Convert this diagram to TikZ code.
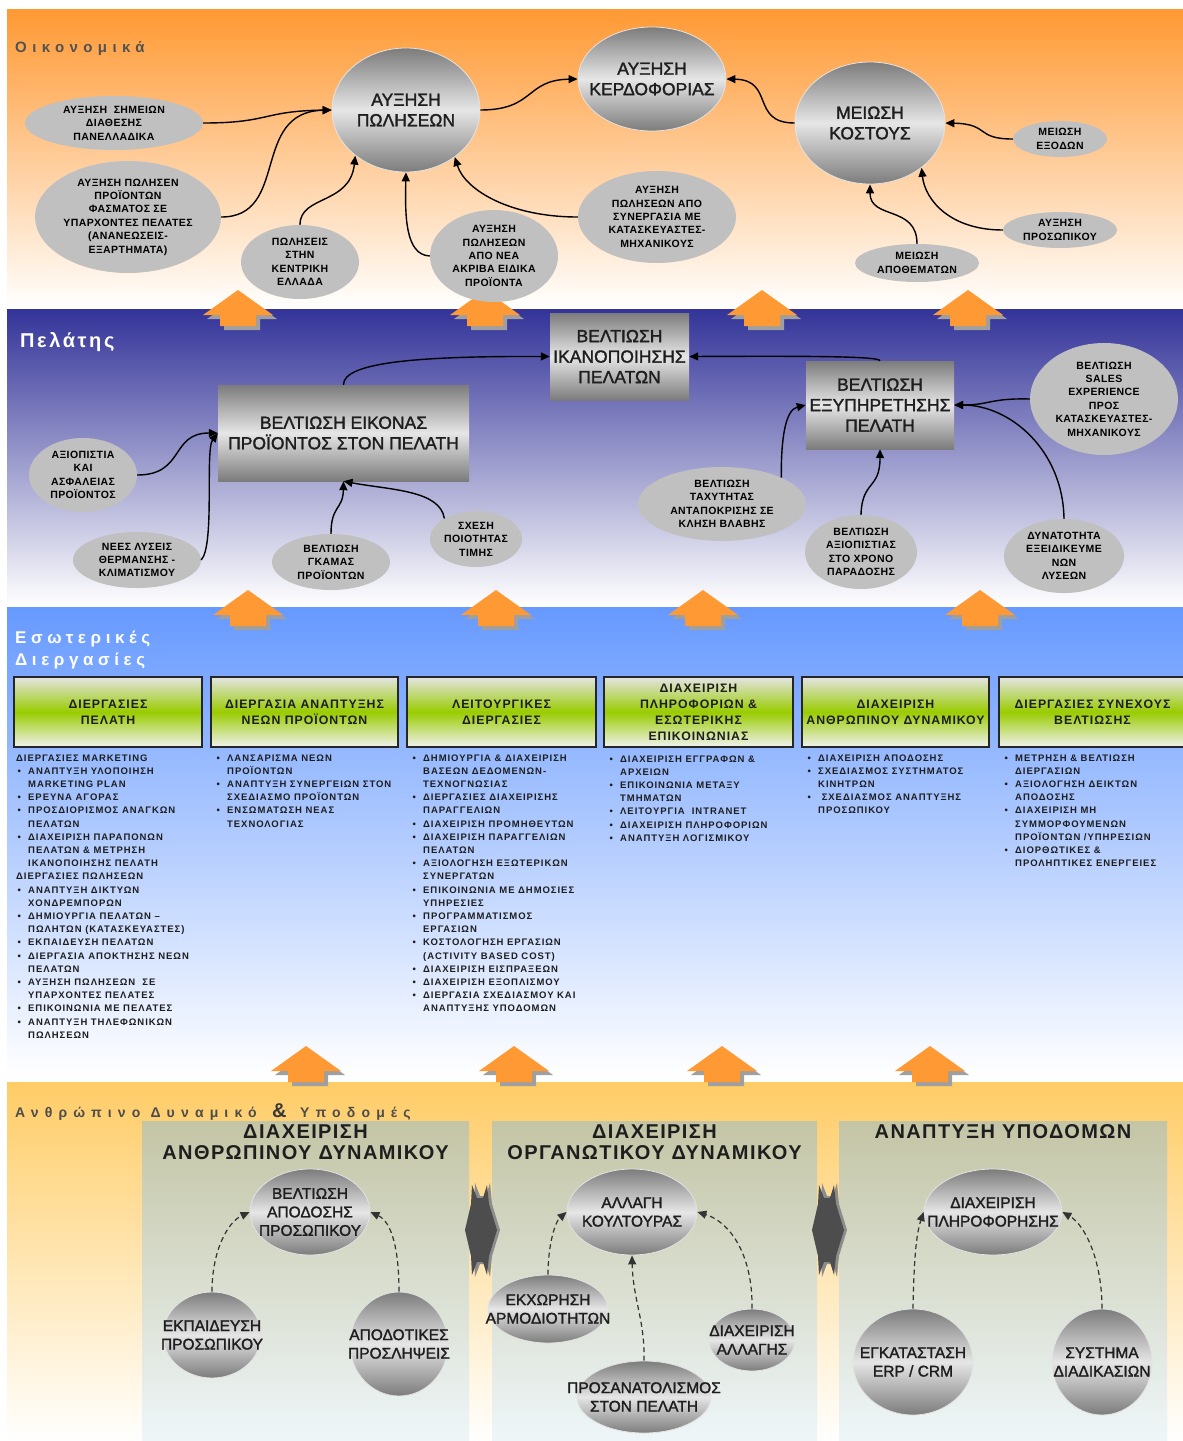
\documentclass[tikz,border=0pt]{standalone}
\usepackage{fontspec}
\setmainfont{Liberation Sans}
\newfontfamily\fMd{Liberation Sans}[FakeBold=1.6]
\newfontfamily\fSm{Liberation Sans}[LetterSpace=4]
\newfontfamily\fLs{Liberation Sans}[LetterSpace=10]
\newfontfamily\fHd{Liberation Sans}[LetterSpace=8]
\newfontfamily\fPn{Liberation Sans}[LetterSpace=7]
\newfontfamily\fTt{Liberation Sans}[LetterSpace=36]
\newfontfamily\fPl{Liberation Sans}[LetterSpace=13]
\newfontfamily\fEs{Liberation Sans}[LetterSpace=27]
\newfontfamily\fSp{Liberation Sans}[LetterSpace=44]
\usetikzlibrary{shapes.geometric,arrows.meta,calc}
\definecolor{orA}{HTML}{FF9933}
\definecolor{blA}{HTML}{333399}
\definecolor{lbA}{HTML}{6699FF}
\definecolor{yeA}{HTML}{FFCC66}
\definecolor{ellG}{HTML}{C0C0C0}
\definecolor{gD}{HTML}{7C7C7C}
\definecolor{gL}{HTML}{E6E6E6}
\definecolor{grn}{HTML}{99CC00}
\definecolor{gbT}{HTML}{E4E4E4}
\definecolor{gbB}{HTML}{F2F2F2}
\definecolor{pnT}{HTML}{C4C5A5}
\definecolor{pnB}{HTML}{EEF6F9}
\definecolor{txD}{HTML}{1E1E1E}
\definecolor{dk}{HTML}{333333}
\definecolor{hxD}{HTML}{4D4D4D}
\definecolor{hxL}{HTML}{8C8C8C}
\tikzset{
  bigell/.style={ellipse, inner sep=0, draw=gray!22, line width=0.8pt, top color=gD, bottom color=gD, middle color=gL},
  smell/.style={ellipse, inner sep=0, fill=ellG},
  grect/.style={rectangle, inner sep=0, top color=gD, bottom color=gD, middle color=gL},
  bigtxt/.style={align=center, inner sep=0, text=txD, font=\fMd\fontsize{17.5}{20.5}\selectfont},
  bottxt/.style={align=center, inner sep=0, text=txD, font=\fMd\fontsize{15.5}{18.5}\selectfont},
  smtxt/.style={align=center, inner sep=0, text=black, font=\fSm\bfseries\fontsize{10.5}{13.4}\selectfont},
  gbox/.style={rectangle, draw=black!85, line width=1.5pt, top color=gbT, bottom color=gbB, middle color=grn, inner sep=0, align=center, text=txD, font=\fHd\bfseries\fontsize{12.3}{16}\selectfont},
  lst/.style={anchor=north west, align=left, inner sep=0, text=txD, font=\fLs\bfseries\fontsize{9.5}{13.2}\selectfont},
  ptitle/.style={align=center, inner sep=0, anchor=north, text=txD, font=\fPn\bfseries\fontsize{20}{21}\selectfont},
  conn/.style={line width=1.4pt, draw=black, -{Triangle[length=9pt,width=8pt]}},
  dconn/.style={line width=1.2pt, draw=dk, dash pattern=on 5pt off 3.5pt, -{Triangle[length=9pt,width=8pt]}},
  arS/.style={fill=gray!75},
  arF/.style={fill=orA}
}
\newcommand\EN[8]{\node[#1, minimum width=#5, minimum height=#6] (#2) at (#3,#4) {}; \node[#7] (#2-t) at (#3,#4) {#8};}
\newcommand\blockup[2]{%
\begin{scope}[shift={(#1,#2)}]
\fill[arS] (4,4) -- (39,29) -- (22,29) -- (22,40) -- (-14,40) -- (-14,29) -- (-31,29) -- cycle;
\fill[arF] (0,0) -- (35,25) -- (18,25) -- (18,36) -- (-18,36) -- (-18,25) -- (-35,25) -- cycle;
\end{scope}}
\newcommand\dblhex[1]{%
\begin{scope}[shift={(#1,1230)}]
\fill[hxL] (-14,0) -- (-8,-26) -- (-7,-47) -- (-2,-34) -- (4,-34) -- (8,-47) -- (10,-26) -- (18,0) -- (10,26) -- (8,47) -- (4,34) -- (-2,34) -- (-7,47) -- (-8,26) -- cycle;
\fill[hxD] (-17,0) -- (-11,-26) -- (-10,-45) -- (-5,-32) -- (1,-32) -- (5,-45) -- (7,-26) -- (15,0) -- (7,26) -- (5,45) -- (1,32) -- (-5,32) -- (-10,45) -- (-11,26) -- cycle;
\end{scope}}
\newcommand\bu{\hspace*{1.5pt}\makebox[10.5pt][l]{•}}
\newcommand\co{\hspace*{12pt}}
\begin{document}
\begin{tikzpicture}[x=1pt,y=-1pt]
\useasboundingbox (0,0) rectangle (1183,1441);
% ---------- bands
\fill[top color=orA, bottom color=white] (7,9) rectangle (1183,308);
\fill[top color=blA, bottom color=white] (7,309) rectangle (1183,606);
\fill[top color=lbA, bottom color=white] (7,607) rectangle (1183,1076);
\fill[top color=yeA, bottom color=white] (7,1082) rectangle (1183,1441);
% ---------- section titles
\node[anchor=base west, inner sep=0, text=black!68, font=\fTt\bfseries\fontsize{15}{15}\selectfont] (t1) at (15,52) {Οικονομικά};
\node[anchor=base west, inner sep=0, text=white, font=\fPl\bfseries\fontsize{20}{20}\selectfont] (t2) at (20,347) {Πελάτης};
\node[anchor=base west, inner sep=0, text=white, font=\fEs\bfseries\fontsize{17}{17}\selectfont] (t3) at (15,643) {Εσωτερικές};
\node[anchor=base west, inner sep=0, text=white, font=\fEs\bfseries\fontsize{17}{17}\selectfont] (t4) at (15,665) {Διεργασίες};
\node[anchor=base west, inner sep=0, text=black!70, font=\fSp\bfseries\fontsize{14}{14}\selectfont] (t5) at (15,1117) {Ανθρώπινο Δυναμικό};
\node[anchor=base west, inner sep=0, text=black!78, font=\bfseries\fontsize{20}{20}\selectfont] (t6) at (272,1117) {\&};
\node[anchor=base west, inner sep=0, text=black!70, font=\fSp\bfseries\fontsize{14}{14}\selectfont] (t7) at (300,1117) {Υποδομές};
% ---------- block arrows
\blockup{238}{290}\blockup{485}{290}\blockup{762}{290}\blockup{968}{290}
\blockup{248}{590}\blockup{496}{590}\blockup{703}{590}\blockup{980}{590}
\blockup{306}{1046}\blockup{514}{1046}\blockup{722}{1046}\blockup{930}{1046}
% ---------- panels
\fill[top color=pnT, bottom color=pnB] (142,1121) rectangle (469,1441);
\fill[top color=pnT, bottom color=pnB] (492,1121) rectangle (817,1441);
\fill[top color=pnT, bottom color=pnB] (839,1121) rectangle (1167,1441);
\dblhex{482}\dblhex{829}
\node[ptitle] (p1) at (305.5,1124.5) {ΔΙΑΧΕΙΡΙΣΗ\\ΑΝΘΡΩΠΙΝΟΥ ΔΥΝΑΜΙΚΟΥ};
\node[ptitle] (p2) at (654.5,1124.5) {ΔΙΑΧΕΙΡΙΣΗ\\ΟΡΓΑΝΩΤΙΚΟΥ ΔΥΝΑΜΙΚΟΥ};
\node[ptitle] (p3) at (1003,1124.5) {ΑΝΑΠΤΥΞΗ ΥΠΟΔΟΜΩΝ};
% ---------- top: financial
\EN{bigell}{pol}{406}{110}{148}{124}{bigtxt}{ΑΥΞΗΣΗ\\ΠΩΛΗΣΕΩΝ}
\EN{bigell}{kerd}{652}{79}{148}{104}{bigtxt}{ΑΥΞΗΣΗ\\ΚΕΡΔΟΦΟΡΙΑΣ}
\EN{bigell}{kost}{870}{123}{150}{122}{bigtxt}{ΜΕΙΩΣΗ\\ΚΟΣΤΟΥΣ}
\EN{smell}{sim}{114}{123}{178}{54}{smtxt}{ΑΥΞΗΣΗ \ ΣΗΜΕΙΩΝ\\ΔΙΑΘΕΣΗΣ\\ΠΑΝΕΛΛΑΔΙΚΑ}
\EN{smell}{fasm}{128}{217}{186}{112}{smtxt}{ΑΥΞΗΣΗ ΠΩΛΗΣΕΝ\\ΠΡΟΪΟΝΤΩΝ\\ΦΑΣΜΑΤΟΣ ΣΕ\\ΥΠΑΡΧΟΝΤΕΣ ΠΕΛΑΤΕΣ\\(ΑΝΑΝΕΩΣΕΙΣ-\\ΕΞΑΡΤΗΜΑΤΑ)}
\EN{smell}{kentr}{300}{262}{118}{74}{smtxt}{ΠΩΛΗΣΕΙΣ\\ΣΤΗΝ\\ΚΕΝΤΡΙΚΗ\\ΕΛΛΑΔΑ}
\EN{smell}{akr}{494}{256}{128}{92}{smtxt}{ΑΥΞΗΣΗ\\ΠΩΛΗΣΕΩΝ\\ΑΠΟ ΝΕΑ\\ΑΚΡΙΒΑ ΕΙΔΙΚΑ\\ΠΡΟΪΟΝΤΑ}
\EN{smell}{syn}{657}{217}{158}{92}{smtxt}{ΑΥΞΗΣΗ\\ΠΩΛΗΣΕΩΝ ΑΠΟ\\ΣΥΝΕΡΓΑΣΙΑ ΜΕ\\ΚΑΤΑΣΚΕΥΑΣΤΕΣ-\\ΜΗΧΑΝΙΚΟΥΣ}
\EN{smell}{exod}{1060}{139}{94}{36}{smtxt}{ΜΕΙΩΣΗ\\ΕΞΟΔΩΝ}
\EN{smell}{prosw}{1060}{230}{114}{36}{smtxt}{ΑΥΞΗΣΗ\\ΠΡΟΣΩΠΙΚΟΥ}
\EN{smell}{apoth}{917}{263}{124}{38}{smtxt}{ΜΕΙΩΣΗ\\ΑΠΟΘΕΜΑΤΩΝ}
\draw[conn] (sim.east) .. controls (270,123) and (262,111) .. (pol.west);
\draw[conn] (fasm.east) .. controls (290,217) and (250,112) .. (pol.west);
\draw[conn] (kentr.north) .. controls (300,195) and (350,205) .. (pol.222);
\draw[conn] (akr.west) .. controls (405,255) and (405,215) .. (pol.south);
\draw[conn] (syn.west) .. controls (510,217) and (465,190) .. (pol.-44);
\draw[conn] (pol.east) .. controls (535,110) and (525,80) .. (kerd.west);
\draw[conn] (kost.west) .. controls (750,123) and (775,80) .. (kerd.east);
\draw[conn] (exod.west) .. controls (975,139) and (990,124) .. (kost.east);
\draw[conn] (prosw.west) .. controls (950,230) and (925,200) .. (kost.-41);
\draw[conn] (apoth.north) .. controls (917,205) and (870,220) .. (kost.south);
% ---------- customer
\node[grect, minimum width=251, minimum height=96] (eik) at (343.5,433) {};
\node[bigtxt] (eik-t) at (343.5,433) {ΒΕΛΤΙΩΣΗ ΕΙΚΟΝΑΣ\\ΠΡΟΪΟΝΤΟΣ ΣΤΟΝ ΠΕΛΑΤΗ};
\node[grect, minimum width=139, minimum height=87] (ikan) at (619.5,356.5) {};
\node[bigtxt] (ikan-t) at (619.5,356.5) {ΒΕΛΤΙΩΣΗ\\ΙΚΑΝΟΠΟΙΗΣΗΣ\\ΠΕΛΑΤΩΝ};
\node[grect, minimum width=148, minimum height=88] (exyp) at (880,405) {};
\node[bigtxt] (exyp-t) at (880,405) {ΒΕΛΤΙΩΣΗ\\ΕΞΥΠΗΡΕΤΗΣΗΣ\\ΠΕΛΑΤΗ};
\EN{smell}{axiop}{83}{475}{108}{74}{smtxt}{ΑΞΙΟΠΙΣΤΙΑ\\ΚΑΙ\\ΑΣΦΑΛΕΙΑΣ\\ΠΡΟΪΟΝΤΟΣ}
\EN{smell}{nees}{137}{560}{128}{56}{smtxt}{ΝΕΕΣ ΛΥΣΕΙΣ\\ΘΕΡΜΑΝΣΗΣ -\\ΚΛΙΜΑΤΙΣΜΟΥ}
\EN{smell}{gkam}{331}{562}{118}{56}{smtxt}{ΒΕΛΤΙΩΣΗ\\ΓΚΑΜΑΣ\\ΠΡΟΪΟΝΤΩΝ}
\EN{smell}{sxesi}{476}{539}{92}{56}{smtxt}{ΣΧΕΣΗ\\ΠΟΙΟΤΗΤΑΣ\\ΤΙΜΗΣ}
\EN{smell}{tax}{722}{504}{168}{74}{smtxt}{ΒΕΛΤΙΩΣΗ\\ΤΑΧΥΤΗΤΑΣ\\ΑΝΤΑΠΟΚΡΙΣΗΣ ΣΕ\\ΚΛΗΣΗ ΒΛΑΒΗΣ}
\EN{smell}{xrono}{861}{552}{112}{74}{smtxt}{ΒΕΛΤΙΩΣΗ\\ΑΞΙΟΠΙΣΤΙΑΣ\\ΣΤΟ ΧΡΟΝΟ\\ΠΑΡΑΔΟΣΗΣ}
\EN{smell}{dynat}{1064}{556}{120}{74}{smtxt}{ΔΥΝΑΤΟΤΗΤΑ\\ΕΞΕΙΔΙΚΕΥΜΕ\\ΝΩΝ\\ΛΥΣΕΩΝ}
\EN{smell}{sales}{1104}{399}{148}{112}{smtxt}{ΒΕΛΤΙΩΣΗ\\SALES\\EXPERIENCE\\ΠΡΟΣ\\ΚΑΤΑΣΚΕΥΑΣΤΕΣ-\\ΜΗΧΑΝΙΚΟΥΣ}
\draw[conn] (eik.north) .. controls (343,362) and (420,356) .. (ikan.west);
\draw[conn] (exyp.north) .. controls (880,356) and (800,356) .. (ikan.east);
\draw[conn] (axiop.east) .. controls (185,475) and (170,433) .. (eik.west);
\draw[conn] (nees.east) .. controls (215,545) and (205,450) .. (eik.west);
\draw[conn] (gkam.north) .. controls (331,505) and (343,510) .. (eik.south);
\draw[conn] (sxesi.147) .. controls (440,490) and (390,490) .. (eik.south);
\draw[conn] (tax.24) .. controls (781,440) and (785,410) .. (exyp.west);
\draw[conn] (xrono.north) .. controls (862,480) and (880,490) .. (exyp.south);
\draw[conn] (dynat.north) .. controls (1063,450) and (1010,405) .. (exyp.east);
\draw[conn] (sales.west) .. controls (990,398) and (990,405) .. (exyp.east);
% ---------- internal processes
\node[gbox, minimum width=188, minimum height=70] (b1) at (108,712) {ΔΙΕΡΓΑΣΙΕΣ\\ΠΕΛΑΤΗ};
\node[gbox, minimum width=187, minimum height=70] (b2) at (304.5,712) {ΔΙΕΡΓΑΣΙΑ ΑΝΑΠΤΥΞΗΣ\\ΝΕΩΝ ΠΡΟΪΟΝΤΩΝ};
\node[gbox, minimum width=189, minimum height=70] (b3) at (501.5,712) {ΛΕΙΤΟΥΡΓΙΚΕΣ\\ΔΙΕΡΓΑΣΙΕΣ};
\node[gbox, minimum width=189, minimum height=70] (b4) at (698.5,712) {ΔΙΑΧΕΙΡΙΣΗ\\ΠΛΗΡΟΦΟΡΙΩΝ \&\\ΕΣΩΤΕΡΙΚΗΣ\\ΕΠΙΚΟΙΝΩΝΙΑΣ};
\node[gbox, minimum width=187, minimum height=70] (b5) at (895.5,712) {ΔΙΑΧΕΙΡΙΣΗ\\ΑΝΘΡΩΠΙΝΟΥ ΔΥΝΑΜΙΚΟΥ};
\node[gbox, minimum width=187, minimum height=70] (b6) at (1092.5,712) {ΔΙΕΡΓΑΣΙΕΣ ΣΥΝΕΧΟΥΣ\\ΒΕΛΤΙΩΣΗΣ};
\node[lst] (l1) at (16,754.2) {ΔΙΕΡΓΑΣΙΕΣ MARKETING\\
\bu ΑΝΑΠΤΥΞΗ ΥΛΟΠΟΙΗΣΗ\\
\co MARKETING PLAN\\
\bu ΕΡΕΥΝΑ ΑΓΟΡΑΣ\\
\bu ΠΡΟΣΔΙΟΡΙΣΜΟΣ ΑΝΑΓΚΩΝ\\
\co ΠΕΛΑΤΩΝ\\
\bu ΔΙΑΧΕΙΡΙΣΗ ΠΑΡΑΠΟΝΩΝ\\
\co ΠΕΛΑΤΩΝ \& ΜΕΤΡΗΣΗ\\
\co ΙΚΑΝΟΠΟΙΗΣΗΣ ΠΕΛΑΤΗ\\
ΔΙΕΡΓΑΣΙΕΣ ΠΩΛΗΣΕΩΝ\\
\bu ΑΝΑΠΤΥΞΗ ΔΙΚΤΥΩΝ\\
\co ΧΟΝΔΡΕΜΠΟΡΩΝ\\
\bu ΔΗΜΙΟΥΡΓΙΑ ΠΕΛΑΤΩΝ –\\
\co ΠΩΛΗΤΩΝ (ΚΑΤΑΣΚΕΥΑΣΤΕΣ)\\
\bu ΕΚΠΑΙΔΕΥΣΗ ΠΕΛΑΤΩΝ\\
\bu ΔΙΕΡΓΑΣΙΑ ΑΠΟΚΤΗΣΗΣ ΝΕΩΝ\\
\co ΠΕΛΑΤΩΝ\\
\bu ΑΥΞΗΣΗ ΠΩΛΗΣΕΩΝ \ ΣΕ\\
\co ΥΠΑΡΧΟΝΤΕΣ ΠΕΛΑΤΕΣ\\
\bu ΕΠΙΚΟΙΝΩΝΙΑ ΜΕ ΠΕΛΑΤΕΣ\\
\bu ΑΝΑΠΤΥΞΗ ΤΗΛΕΦΩΝΙΚΩΝ\\
\co ΠΩΛΗΣΕΩΝ};
\node[lst] (l2) at (215,754.2) {\bu ΛΑΝΣΑΡΙΣΜΑ ΝΕΩΝ\\
\co ΠΡΟΪΟΝΤΩΝ\\
\bu ΑΝΑΠΤΥΞΗ ΣΥΝΕΡΓΕΙΩΝ ΣΤΟΝ\\
\co ΣΧΕΔΙΑΣΜΟ ΠΡΟΪΟΝΤΩΝ\\
\bu ΕΝΣΩΜΑΤΩΣΗ ΝΕΑΣ\\
\co ΤΕΧΝΟΛΟΓΙΑΣ};
\node[lst] (l3) at (411,754.2) {\bu ΔΗΜΙΟΥΡΓΙΑ \& ΔΙΑΧΕΙΡΙΣΗ\\
\co ΒΑΣΕΩΝ ΔΕΔΟΜΕΝΩΝ-\\
\co ΤΕΧΝΟΓΝΩΣΙΑΣ\\
\bu ΔΙΕΡΓΑΣΙΕΣ ΔΙΑΧΕΙΡΙΣΗΣ\\
\co ΠΑΡΑΓΓΕΛΙΩΝ\\
\bu ΔΙΑΧΕΙΡΙΣΗ ΠΡΟΜΗΘΕΥΤΩΝ\\
\bu ΔΙΑΧΕΙΡΙΣΗ ΠΑΡΑΓΓΕΛΙΩΝ\\
\co ΠΕΛΑΤΩΝ\\
\bu ΑΞΙΟΛΟΓΗΣΗ ΕΞΩΤΕΡΙΚΩΝ\\
\co ΣΥΝΕΡΓΑΤΩΝ\\
\bu ΕΠΙΚΟΙΝΩΝΙΑ ΜΕ ΔΗΜΟΣΙΕΣ\\
\co ΥΠΗΡΕΣΙΕΣ\\
\bu ΠΡΟΓΡΑΜΜΑΤΙΣΜΟΣ\\
\co ΕΡΓΑΣΙΩΝ\\
\bu ΚΟΣΤΟΛΟΓΗΣΗ ΕΡΓΑΣΙΩΝ\\
\co (ACTIVITY BASED COST)\\
\bu ΔΙΑΧΕΙΡΙΣΗ ΕΙΣΠΡΑΞΕΩΝ\\
\bu ΔΙΑΧΕΙΡΙΣΗ ΕΞΟΠΛΙΣΜΟΥ\\
\bu ΔΙΕΡΓΑΣΙΑ ΣΧΕΔΙΑΣΜΟΥ ΚΑΙ\\
\co ΑΝΑΠΤΥΞΗΣ ΥΠΟΔΟΜΩΝ};
\node[lst] (l4) at (608,755.2) {\bu ΔΙΑΧΕΙΡΙΣΗ ΕΓΓΡΑΦΩΝ \&\\
\co ΑΡΧΕΙΩΝ\\
\bu ΕΠΙΚΟΙΝΩΝΙΑ ΜΕΤΑΞΥ\\
\co ΤΜΗΜΑΤΩΝ\\
\bu ΛΕΙΤΟΥΡΓΙΑ \ INTRANET\\
\bu ΔΙΑΧΕΙΡΙΣΗ ΠΛΗΡΟΦΟΡΙΩΝ\\
\bu ΑΝΑΠΤΥΞΗ ΛΟΓΙΣΜΙΚΟΥ};
\node[lst] (l5) at (806,754.2) {\bu ΔΙΑΧΕΙΡΙΣΗ ΑΠΟΔΟΣΗΣ\\
\bu ΣΧΕΔΙΑΣΜΟΣ ΣΥΣΤΗΜΑΤΟΣ\\
\co ΚΙΝΗΤΡΩΝ\\
\bu \ ΣΧΕΔΙΑΣΜΟΣ ΑΝΑΠΤΥΞΗΣ\\
\co ΠΡΟΣΩΠΙΚΟΥ};
\node[lst] (l6) at (1003,754.2) {\bu ΜΕΤΡΗΣΗ \& ΒΕΛΤΙΩΣΗ\\
\co ΔΙΕΡΓΑΣΙΩΝ\\
\bu ΑΞΙΟΛΟΓΗΣΗ ΔΕΙΚΤΩΝ\\
\co ΑΠΟΔΟΣΗΣ\\
\bu ΔΙΑΧΕΙΡΙΣΗ ΜΗ\\
\co ΣΥΜΜΟΡΦΟΥΜΕΝΩΝ\\
\co ΠΡΟΪΟΝΤΩΝ /ΥΠΗΡΕΣΙΩΝ\\
\bu ΔΙΟΡΘΩΤΙΚΕΣ \&\\
\co ΠΡΟΛΗΠΤΙΚΕΣ ΕΝΕΡΓΕΙΕΣ};
% ---------- people & infrastructure
\EN{bigell}{bel}{310}{1212}{120}{86}{bottxt}{ΒΕΛΤΙΩΣΗ\\ΑΠΟΔΟΣΗΣ\\ΠΡΟΣΩΠΙΚΟΥ}
\EN{bigell}{ekp}{212}{1335}{98}{86}{bottxt}{ΕΚΠΑΙΔΕΥΣΗ\\ΠΡΟΣΩΠΙΚΟΥ}
\EN{bigell}{apod}{399}{1344}{98}{104}{bottxt}{ΑΠΟΔΟΤΙΚΕΣ\\ΠΡΟΣΛΗΨΕΙΣ}
\EN{bigell}{allagi}{632}{1212}{130}{86}{bottxt}{ΑΛΛΑΓΗ\\ΚΟΥΛΤΟΥΡΑΣ}
\EN{bigell}{ekx}{548}{1309}{120}{68}{bottxt}{ΕΚΧΩΡΗΣΗ\\ΑΡΜΟΔΙΟΤΗΤΩΝ}
\EN{bigell}{diax}{752}{1340}{86}{62}{bottxt}{ΔΙΑΧΕΙΡΙΣΗ\\ΑΛΛΑΓΗΣ}
\EN{bigell}{prosan}{644}{1397}{134}{72}{bottxt}{ΠΡΟΣΑΝΑΤΟΛΙΣΜΟΣ\\ΣΤΟΝ ΠΕΛΑΤΗ}
\EN{bigell}{plir}{993}{1212}{138}{86}{bottxt}{ΔΙΑΧΕΙΡΙΣΗ\\ΠΛΗΡΟΦΟΡΗΣΗΣ}
\EN{bigell}{erp}{913}{1362}{120}{106}{bottxt}{ΕΓΚΑΤΑΣΤΑΣΗ\\ERP / CRM}
\EN{bigell}{syst}{1102}{1362}{100}{106}{bottxt}{ΣΥΣΤΗΜΑ\\ΔΙΑΔΙΚΑΣΙΩΝ}
\draw[dconn] (ekp.north) .. controls (212,1250) and (228,1222) .. (bel.west);
\draw[dconn] (apod.north) .. controls (399,1250) and (392,1222) .. (bel.east);
\draw[dconn] (ekx.north) .. controls (548,1245) and (555,1222) .. (allagi.west);
\draw[dconn] (prosan.north) .. controls (645,1320) and (633,1300) .. (allagi.south);
\draw[dconn] (diax.north) .. controls (753,1255) and (730,1222) .. (allagi.east);
\draw[dconn] (erp.north) .. controls (914,1260) and (916,1235) .. (plir.west);
\draw[dconn] (syst.north) .. controls (1102,1260) and (1085,1225) .. (plir.east);
\end{tikzpicture}
\end{document}
